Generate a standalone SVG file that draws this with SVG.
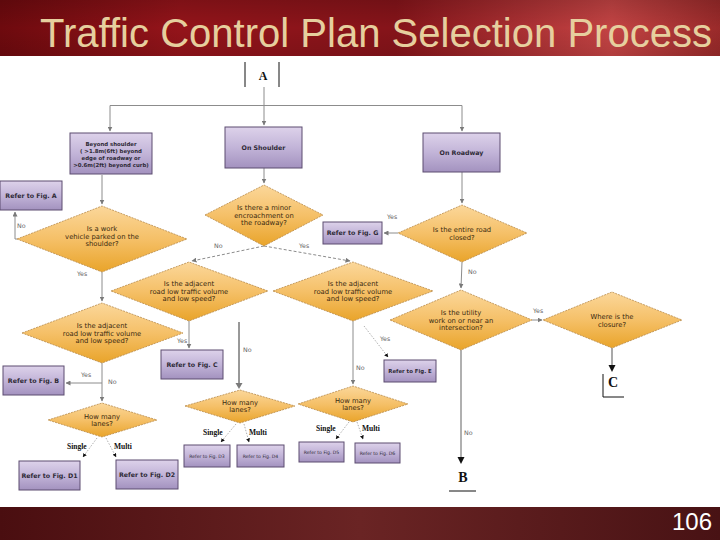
<svg xmlns="http://www.w3.org/2000/svg" width="720" height="540" viewBox="0 0 720 540">
<defs>
<linearGradient id="hdr" x1="0" y1="0" x2="1" y2="0">
<stop offset="0" stop-color="#6e0a0e"/>
<stop offset="0.25" stop-color="#94141a"/>
<stop offset="0.55" stop-color="#86141a"/>
<stop offset="0.85" stop-color="#c44444"/>
<stop offset="1" stop-color="#9a2a2a"/>
</linearGradient>
<linearGradient id="hdrv" x1="0" y1="0" x2="0" y2="1">
<stop offset="0" stop-color="#000" stop-opacity="0.15"/>
<stop offset="0.5" stop-color="#000" stop-opacity="0"/>
<stop offset="1" stop-color="#000" stop-opacity="0.1"/>
</linearGradient>
<linearGradient id="ftr" x1="0" y1="0" x2="1" y2="0">
<stop offset="0" stop-color="#4a0e10"/>
<stop offset="0.5" stop-color="#6a2424"/>
<stop offset="1" stop-color="#481214"/>
</linearGradient>
<linearGradient id="box" x1="0" y1="0" x2="0" y2="1">
<stop offset="0" stop-color="#ddd2ea"/>
<stop offset="0.5" stop-color="#c2b4d8"/>
<stop offset="1" stop-color="#a392bf"/>
</linearGradient>
<linearGradient id="dia" x1="0" y1="0" x2="0" y2="1">
<stop offset="0" stop-color="#fbd79a"/>
<stop offset="0.5" stop-color="#f5c068"/>
<stop offset="1" stop-color="#e9a42a"/>
</linearGradient>
<marker id="ag" viewBox="0 0 10 10" refX="9" refY="5" markerWidth="5" markerHeight="5" orient="auto">
<path d="M0,0 L10,5 L0,10 z" fill="#7a7a7a"/>
</marker>
<marker id="ak" viewBox="0 0 10 10" refX="9" refY="5" markerWidth="5" markerHeight="5" orient="auto">
<path d="M0,0 L10,5 L0,10 z" fill="#111"/>
</marker>
</defs>
<style>
.bx{fill:url(#box);stroke:#5c4c70;stroke-width:1}
.dm{fill:url(#dia);stroke:#b88a4a;stroke-width:0.8;stroke-dasharray:2 1}
.bt{font-family:"DejaVu Sans","Liberation Sans",sans-serif;font-size:6.3px;font-weight:bold;fill:#2e2a36;text-anchor:middle}
.bs{font-size:5.4px}
.bxs{font-size:4.6px;font-weight:normal}
.dt{font-family:"DejaVu Sans","Liberation Sans",sans-serif;font-size:6.8px;fill:#3a2a10;text-anchor:middle}
.lb{font-family:"DejaVu Sans","Liberation Sans",sans-serif;font-size:6.3px;fill:#666}
.sm{font-family:"Liberation Serif",serif;font-size:7.5px;font-weight:bold;fill:#111}
.ln{fill:none;stroke:#8c8c8c;stroke-width:1;marker-end:url(#ag)}
.lnd{fill:none;stroke:#8c8c8c;stroke-width:1;stroke-dasharray:3 2;marker-end:url(#ag)}
.lnk{fill:none;stroke:#9a9a9a;stroke-width:0.8;stroke-dasharray:1.5 1.5;marker-end:url(#ak)}
.cn{font-family:"Liberation Serif",serif;font-weight:bold;fill:#111;text-anchor:middle}
</style>
<rect x="0" y="0" width="720" height="540" fill="#ffffff"/>
<g id="header">
<rect x="0" y="0" width="720" height="56" fill="url(#hdr)"/>
<rect x="0" y="0" width="720" height="56" fill="url(#hdrv)"/>
<text x="40" y="47" font-family="Liberation Sans, Arial, sans-serif" font-size="40" fill="#e6cf9e" textLength="672" lengthAdjust="spacingAndGlyphs">Traffic Control Plan Selection Process</text>
</g>
<g id="footer">
<rect x="0" y="507" width="720" height="33" fill="url(#ftr)"/>
<text x="712" y="530" font-family="Liberation Sans, Arial, sans-serif" font-size="24" fill="#ffffff" text-anchor="end">106</text>
</g>

<g id="connectors">
<line class="ln" x1="264" y1="87" x2="264" y2="125"/>
<line x1="110" y1="105.5" x2="462" y2="105.5" stroke="#8c8c8c" stroke-width="1"/>
<line class="ln" x1="110" y1="105.5" x2="110" y2="131"/>
<line class="ln" x1="462" y1="105.5" x2="462" y2="131"/>
<line class="ln" x1="102" y1="175" x2="102" y2="204"/>
<polyline class="ln" points="17,239 15,239 15,212"/>
<line class="ln" x1="102" y1="272" x2="102" y2="301"/>
<line class="ln" x1="264" y1="168" x2="264" y2="183"/>
<line class="lnd" x1="264" y1="246" x2="192" y2="261"/>
<line class="lnd" x1="264" y1="246" x2="350" y2="261"/>
<line class="ln" x1="462" y1="172" x2="462" y2="203"/>
<line class="ln" x1="398" y1="233" x2="384" y2="233"/>
<line class="ln" x1="462" y1="262" x2="461" y2="288"/>
<line class="ln" x1="189" y1="321" x2="189" y2="348"/>
<line x1="239" y1="322" x2="239" y2="384" stroke="#333" stroke-width="1"/>
<path d="M235.5,383 L242.5,383 L239,389 z" fill="#7a7a7a"/>
<line class="ln" x1="353" y1="321" x2="353" y2="384"/>
<line class="lnk" x1="364" y1="326" x2="388" y2="357"/>
<line class="ln" x1="102" y1="363" x2="102" y2="401"/>
<line class="ln" x1="102" y1="383" x2="66" y2="383"/>
<line class="lnk" x1="97" y1="438" x2="83" y2="457"/>
<line class="lnk" x1="106" y1="438" x2="116" y2="457"/>
<line class="lnk" x1="236" y1="424" x2="221" y2="442"/>
<line class="lnk" x1="244" y1="424" x2="249" y2="442"/>
<line class="lnk" x1="349" y1="422" x2="336" y2="439"/>
<line class="lnk" x1="357" y1="422" x2="363" y2="439"/>
<line class="ln" x1="532" y1="320" x2="542" y2="320"/>
<line x1="461" y1="350" x2="461" y2="458" stroke="#b0b0b0" stroke-width="2"/>
<path d="M457.5,457 L464.5,457 L461,464 z" fill="#111"/>
<line x1="612" y1="348" x2="612" y2="366" stroke="#8c8c8c" stroke-width="1.5"/>
<path d="M608.5,365 L615.5,365 L612,372 z" fill="#111"/>
</g>

<g id="edge-labels">
<text class="lb" x="17" y="228">No</text>
<text class="lb" x="77" y="276">Yes</text>
<text class="lb" x="214" y="248">No</text>
<text class="lb" x="299" y="248">Yes</text>
<text class="lb" x="387" y="219">Yes</text>
<text class="lb" x="468" y="274">No</text>
<text class="lb" x="177" y="343">Yes</text>
<text class="lb" x="243" y="352">No</text>
<text class="lb" x="380" y="341">Yes</text>
<text class="lb" x="356" y="370">No</text>
<text class="lb" x="81" y="377">Yes</text>
<text class="lb" x="108" y="384">No</text>
<text class="lb" x="533" y="313">Yes</text>
<text class="lb" x="464" y="435">No</text>
<text class="sm" x="67" y="449">Single</text>
<text class="sm" x="114" y="449">Multi</text>
<text class="sm" x="203" y="435">Single</text>
<text class="sm" x="249" y="435">Multi</text>
<text class="sm" x="316" y="431">Single</text>
<text class="sm" x="362" y="431">Multi</text>
</g>

<g id="nodeA">
<line x1="245" y1="62" x2="245" y2="87" stroke="#111" stroke-width="1"/>
<line x1="279" y1="62" x2="279" y2="87" stroke="#111" stroke-width="1"/>
<text class="cn" x="263" y="80" font-size="12">A</text>
</g>
<g id="nodeB">
<text class="cn" x="463" y="482" font-size="14">B</text>
<line x1="449" y1="491" x2="476" y2="491" stroke="#111" stroke-width="1"/>
</g>
<g id="nodeC">
<line x1="603" y1="374" x2="603" y2="397" stroke="#111" stroke-width="1"/>
<line x1="603" y1="397" x2="624" y2="397" stroke="#111" stroke-width="1"/>
<text class="cn" x="613" y="387" font-size="14">C</text>
</g>

<g id="beyond-shoulder">
<rect class="bx" x="70" y="133" width="82" height="41"/>
<text class="bt bs" x="111" y="146">Beyond shoulder</text>
<text class="bt bs" x="111" y="153">( &gt;1.8m(6ft) beyond</text>
<text class="bt bs" x="111" y="160">edge of roadway or</text>
<text class="bt bs" x="111" y="167">&gt;0.6m(2ft) beyond curb)</text>
</g>
<g id="on-shoulder">
<rect class="bx" x="225" y="127" width="77" height="41"/>
<text class="bt" x="263.5" y="150">On Shoulder</text>
</g>
<g id="on-roadway">
<rect class="bx" x="423" y="133" width="77" height="39"/>
<text class="bt" x="461.5" y="155">On Roadway</text>
</g>
<g id="fig-a">
<rect class="bx" x="0" y="181" width="62" height="29"/>
<text class="bt" x="31" y="198">Refer to Fig. A</text>
</g>
<g id="fig-g">
<rect class="bx" x="323" y="222" width="59" height="22"/>
<text class="bt" x="352.5" y="235">Refer to Fig. G</text>
</g>
<g id="fig-c">
<rect class="bx" x="161" y="350" width="62" height="29"/>
<text class="bt" x="192" y="367">Refer to Fig. C</text>
</g>
<g id="fig-b">
<rect class="bx" x="3" y="366" width="61" height="29"/>
<text class="bt" x="33.5" y="383">Refer to Fig. B</text>
</g>
<g id="fig-e">
<rect class="bx" x="384" y="360" width="52" height="22"/>
<text class="bt bs" x="410" y="373">Refer to Fig. E</text>
</g>
<g id="fig-d1">
<rect class="bx" x="19" y="461" width="61" height="29"/>
<text class="bt" x="49.5" y="478">Refer to Fig. D1</text>
</g>
<g id="fig-d2">
<rect class="bx" x="116" y="460" width="62" height="29"/>
<text class="bt" x="147" y="477">Refer to Fig. D2</text>
</g>
<g id="fig-d3">
<rect class="bx" x="184" y="445" width="46" height="22"/>
<text class="bt bxs" x="207" y="458">Refer to Fig. D3</text>
</g>
<g id="fig-d4">
<rect class="bx" x="237" y="445" width="47" height="22"/>
<text class="bt bxs" x="260.5" y="458">Refer to Fig. D4</text>
</g>
<g id="fig-d5">
<rect class="bx" x="299" y="442" width="45" height="20"/>
<text class="bt bxs" x="321.5" y="454">Refer to Fig. D5</text>
</g>
<g id="fig-d6">
<rect class="bx" x="355" y="443" width="45" height="20"/>
<text class="bt bxs" x="377.5" y="455">Refer to Fig. D6</text>
</g>

<g id="q-encroach">
<polygon class="dm" points="205,215 264,185 323,215 264,246"/>
<text class="dt" x="264" y="210">Is there a minor</text>
<text class="dt" x="264" y="217.5">encroachment on</text>
<text class="dt" x="264" y="225">the roadway?</text>
</g>
<g id="q-work-vehicle">
<polygon class="dm" points="17,239 102,206 187,239 102,272"/>
<text class="dt" x="102" y="231">Is a work</text>
<text class="dt" x="102" y="238.5">vehicle parked on the</text>
<text class="dt" x="102" y="246">shoulder?</text>
</g>
<g id="q-closed">
<polygon class="dm" points="398,233 462,205 527,233 462,262"/>
<text class="dt" x="462" y="232">Is the entire road</text>
<text class="dt" x="462" y="239.5">closed?</text>
</g>
<g id="q-adjacent-1">
<polygon class="dm" points="111,291 189,262 268,291 189,321"/>
<text class="dt" x="189" y="286">Is the adjacent</text>
<text class="dt" x="189" y="293.5">road low traffic volume</text>
<text class="dt" x="189" y="301">and low speed?</text>
</g>
<g id="q-adjacent-2">
<polygon class="dm" points="273,291 353,262 433,291 353,321"/>
<text class="dt" x="353" y="286">Is the adjacent</text>
<text class="dt" x="353" y="293.5">road low traffic volume</text>
<text class="dt" x="353" y="301">and low speed?</text>
</g>
<g id="q-adjacent-3">
<polygon class="dm" points="22,333 102,303 183,333 102,363"/>
<text class="dt" x="102" y="328">Is the adjacent</text>
<text class="dt" x="102" y="335.5">road low traffic volume</text>
<text class="dt" x="102" y="343">and low speed?</text>
</g>
<g id="q-utility">
<polygon class="dm" points="390,320 461,290 532,320 461,350"/>
<text class="dt" x="461" y="315">Is the utility</text>
<text class="dt" x="461" y="322.5">work on or near an</text>
<text class="dt" x="461" y="330">intersection?</text>
</g>
<g id="q-where">
<polygon class="dm" points="543,320 612,292 682,320 612,348"/>
<text class="dt" x="612" y="319">Where is the</text>
<text class="dt" x="612" y="326.5">closure?</text>
</g>
<g id="q-lanes-1">
<polygon class="dm" points="48,420 102,403 157,420 102,437"/>
<text class="dt" x="102" y="419">How many</text>
<text class="dt" x="102" y="426">lanes?</text>
</g>
<g id="q-lanes-2">
<polygon class="dm" points="185,406 240,390 295,406 240,423"/>
<text class="dt" x="240" y="405">How many</text>
<text class="dt" x="240" y="412">lanes?</text>
</g>
<g id="q-lanes-3">
<polygon class="dm" points="298,404 353,386 408,404 353,422"/>
<text class="dt" x="353" y="403">How many</text>
<text class="dt" x="353" y="410">lanes?</text>
</g>
</svg>
